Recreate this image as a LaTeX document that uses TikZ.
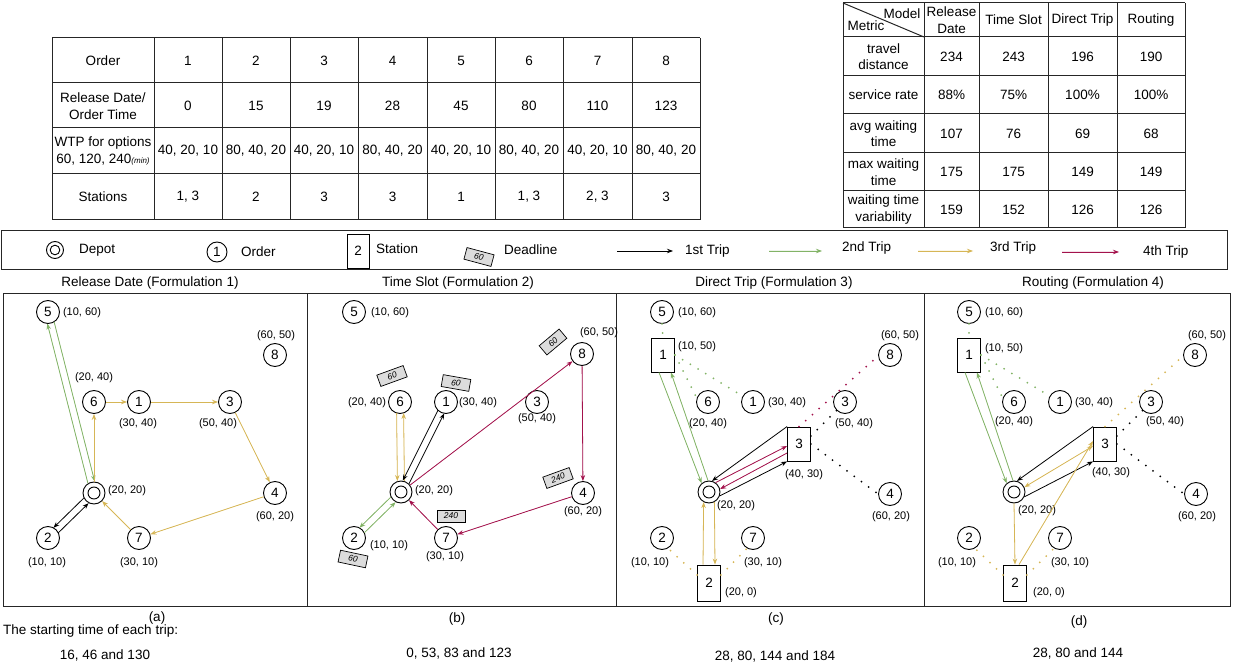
\documentclass[tikz,border=0pt]{standalone}
\usepackage{fontspec}
\setmainfont{Liberation Sans}
\usetikzlibrary{arrows.meta,calc}
\definecolor{tgreen}{HTML}{82B366}
\definecolor{ttan}{HTML}{D6B656}
\definecolor{tred}{HTML}{A3124C}
\definecolor{tagfill}{HTML}{DCDCDC}
\newcommand\fA{\fontsize{13.5}{16.5}\selectfont}
\newcommand\fB{\fontsize{11}{13}\selectfont}
\newcommand\fC{\fontsize{8.5}{10}\selectfont}
\newcommand\dlnL[3]{\draw[#1] ($(#2)!3.5pt!90:(#3)$) -- ($(#3)!3.5pt!-90:(#2)$);}
\newcommand\dlnR[3]{\draw[#1] ($(#2)!3.5pt!-90:(#3)$) -- ($(#3)!3.5pt!90:(#2)$);}
\tikzset{
 ord/.style={circle,draw,line width=0.9pt,minimum size=23pt,inner sep=0pt,font=\fA},
 dep/.style={circle,draw,line width=0.9pt,minimum size=22pt,inner sep=0pt,
   path picture={\draw[line width=0.9pt] (path picture bounding box.center) circle (6pt);}},
 depsm/.style={circle,draw,line width=0.9pt,minimum size=17pt,inner sep=0pt,
   path picture={\draw[line width=0.9pt] (path picture bounding box.center) circle (4.8pt);}},
 sta/.style={rectangle,draw,line width=0.9pt,minimum width=23pt,minimum height=34pt,inner sep=0pt,font=\fA},
 tagbox/.style={rectangle,draw,line width=0.7pt,fill=tagfill,minimum width=28pt,minimum height=12pt,inner sep=0pt,font=\fC\itshape},
 lbl/.style={font=\fB,inner sep=0pt},
 txt/.style={font=\fA,inner sep=0pt,align=center},
 arrw/.style={line width=0.8pt,-{Stealth[length=6pt,width=4.5pt]}},
 arrboth/.style={line width=0.8pt,{Stealth[length=6pt,width=4.5pt]}-{Stealth[length=6pt,width=4.5pt]}},
 tA/.style={arrw,draw=black},
 tB/.style={arrw,draw=tgreen,fill=tgreen},
 tC/.style={arrw,draw=ttan,fill=ttan},
 tD/.style={arrw,draw=tred,fill=tred},
 shc/.style={shorten <=11pt, shorten >=11pt},
 dotln/.style={line width=2pt,line cap=round,dash pattern=on 0pt off 9pt},
 tline/.style={line width=1pt,black!85},
 frame/.style={line width=1pt,black!85},
}
\begin{document}
\begin{tikzpicture}[x=1pt,y=-1pt]
\useasboundingbox (0,0) rectangle (1234,668);

% ---------- Table 1 ----------
\foreach \xx in {52,154,222,290,358,427,495,563,632,700} \draw[tline] (\xx,38) -- (\xx,220);
\foreach \yy in {38,83,128,174,220} \draw[tline] (52,\yy) -- (700,\yy);
\node[txt] (t1ho) at (103,60.5) {Order};
\node[txt] (t1hr) at (103,106) {Release Date/\\Order Time};
\node[txt] (t1hw) at (103,151) {WTP for options\\60, 120, 240{\fontsize{8}{9}\selectfont\itshape (min)}};
\node[txt] (t1hs) at (103,197) {Stations};
\foreach \i/\cx in {1/188,2/256,3/324,4/392.5,5/461,6/529,7/597.5,8/666}
  \node[txt] (t1o\i) at (\cx,61) {\i};
\foreach \i/\cx/\v in {1/188/0,2/256/15,3/324/19,4/392.5/28,5/461/45,6/529/80,7/597.5/110,8/666/123}
  \node[txt] (t1r\i) at (\cx,106) {\v};
\foreach \i/\cx in {1/188,3/324,5/461,7/597.5}
  \node[txt] (t1w\i) at (\cx,151) {40, 20, 10};
\foreach \i/\cx in {2/256,4/392.5,6/529,8/666}
  \node[txt] (t1w\i) at (\cx,151) {80, 40, 20};
\node[txt] (t1s1) at (188,197) {1, 3};
\node[txt] (t1s2) at (256,197) {2};
\node[txt] (t1s3) at (324,197) {3};
\node[txt] (t1s4) at (392.5,197) {3};
\node[txt] (t1s5) at (461,197) {1};
\node[txt] (t1s6) at (529,197) {1, 3};
\node[txt] (t1s7) at (597.5,197) {2, 3};
\node[txt] (t1s8) at (666,197) {3};

% ---------- Table 2 ----------
\foreach \xx in {843,924,979,1048,1117,1185} \draw[tline] (\xx,3) -- (\xx,228);
\foreach \yy in {3,37,76,114,153,191,228} \draw[tline] (843,\yy) -- (1185,\yy);
\draw[tline] (843,3) -- (924,37);
\node[txt] (t2model) at (902,14) {Model};
\node[txt] (t2metric) at (866,26) {Metric};
\node[txt] (t2c1) at (951.5,20) {Release\\Date};
\node[txt] (t2c2) at (1013.5,20) {Time Slot};
\node[txt] (t2c3) at (1082.5,20) {Direct Trip};
\node[txt] (t2c4) at (1151,20) {Routing};
\node[txt] (t2r1) at (883.5,56.5) {travel\\distance};
\node[txt] (t2r2) at (883.5,95) {service rate};
\node[txt] (t2r3) at (883.5,133.5) {avg waiting\\time};
\node[txt] (t2r4) at (883.5,172) {max waiting\\time};
\node[txt] (t2r5) at (883.5,209.5) {waiting time\\variability};
\foreach \cx/\a/\b/\c/\d/\e/\k in {951.5/234/88\%/107/175/159/1,1013.5/243/75\%/76/175/152/2,1082.5/196/100\%/69/149/126/3,1151/190/100\%/68/149/126/4}{
  \node[txt] (t2v\k a) at (\cx,56.5) {\a};
  \node[txt] (t2v\k b) at (\cx,95) {\b};
  \node[txt] (t2v\k c) at (\cx,133.5) {\c};
  \node[txt] (t2v\k d) at (\cx,172) {\d};
  \node[txt] (t2v\k e) at (\cx,209.5) {\e};
}

% ---------- Legend ----------
\draw[frame] (1,231) rectangle (1227,270);
\node[depsm] (lgdep) at (55,250) {};
\node[txt,anchor=west] (lgdept) at (79,250) {Depot};
\node[ord,minimum size=20pt] (lgord) at (217,252) {1};
\node[txt,anchor=west] (lgordt) at (241,252) {Order};
\node[sta,minimum width=22pt] (lgsta) at (358,251) {2};
\node[txt,anchor=west] (lgstat) at (376,249) {Station};
\node[tagbox,rotate=-15] (lgtag) at (479,257) {60};
\node[txt,anchor=west] (lgtagt) at (504,250) {Deadline};
\coordinate (l1a) at (617,251); \coordinate (l1b) at (673,251);
\coordinate (l2a) at (769,251); \coordinate (l2b) at (822,251);
\coordinate (l3a) at (918,251); \coordinate (l3b) at (973,251);
\coordinate (l4a) at (1062,252); \coordinate (l4b) at (1119,252);
\draw[tA] (l1a) -- (l1b);
\draw[tB] (l2a) -- (l2b);
\draw[tC] (l3a) -- (l3b);
\draw[tD] (l4a) -- (l4b);
\node[txt,anchor=west] (l1t) at (685,251) {1st Trip};
\node[txt,anchor=west] (l2t) at (842,248) {2nd Trip};
\node[txt,anchor=west] (l3t) at (990,248) {3rd Trip};
\node[txt,anchor=west] (l4t) at (1143,252) {4th Trip};

% ---------- Panel frames & titles ----------
\draw[frame] (3,294) rectangle (307,606);
\draw[frame] (307,294) rectangle (616,606);
\draw[frame] (616,294) rectangle (924,606);
\draw[frame] (924,294) rectangle (1230,606);
\node[txt] (ttla) at (150,283) {Release Date (Formulation 1)};
\node[txt] (ttlb) at (458,283) {Time Slot (Formulation 2)};
\node[txt] (ttlc) at (774,283) {Direct Trip (Formulation 3)};
\node[txt] (ttld) at (1093,283) {Routing (Formulation 4)};

% ---------- Panel (a) ----------
\node[ord] (a5) at (48,312) {5};
\node[ord] (a8) at (275,355) {8};
\node[ord] (a6) at (94,402) {6};
\node[ord] (a1) at (139,402) {1};
\node[ord] (a3) at (230,402) {3};
\node[dep] (ad) at (94,493) {};
\node[ord] (a4) at (275,493) {4};
\node[ord] (a2) at (48,538) {2};
\node[ord] (a7) at (139,538) {7};
\node[lbl] (la5) at (82,313) {(10, 60)};
\node[lbl] (la8) at (276,336) {(60, 50)};
\node[lbl] (la6) at (94,378) {(20, 40)};
\node[lbl] (la1) at (138,424) {(30, 40)};
\node[lbl] (la3) at (218,424) {(50, 40)};
\node[lbl] (lad) at (127,491) {(20, 20)};
\node[lbl] (la4) at (275,517) {(60, 20)};
\node[lbl] (la2) at (47,563) {(10, 10)};
\node[lbl] (la7) at (139,563) {(30, 10)};
\dlnL{tB,shc}{ad}{a5}
\dlnL{tB,shc}{a5}{ad}
\dlnR{tA,shc}{ad}{a2}
\dlnR{tA,shc}{a2}{ad}
\draw[tC] (ad) -- (a6);
\draw[tC] (a6) -- (a1);
\draw[tC] (a1) -- (a3);
\draw[tC] (a3) -- (a4);
\draw[tC] (a4) -- (a7);
\draw[tC] (a7) -- (ad);

% ---------- Panel (b) ----------
\node[ord] (b5) at (354,312) {5};
\node[ord] (b8) at (582,354) {8};
\node[ord] (b6) at (400,402) {6};
\node[ord] (b1) at (446,402) {1};
\node[ord] (b3) at (537,402) {3};
\node[dep] (bd) at (401,492) {};
\node[ord] (b4) at (583,493) {4};
\node[ord] (b2) at (354,538) {2};
\node[ord] (b7) at (446,538) {7};
\node[lbl] (lb5) at (390,313) {(10, 60)};
\node[lbl] (lb8) at (599,333) {(60, 50)};
\node[lbl] (lb6) at (367,403) {(20, 40)};
\node[lbl] (lb1) at (478,403) {(30, 40)};
\node[lbl] (lb3) at (537,419) {(50, 40)};
\node[lbl] (lbd) at (434,491) {(20, 20)};
\node[lbl] (lb4) at (583,512) {(60, 20)};
\node[lbl] (lb2) at (389,546) {(10, 10)};
\node[lbl] (lb7) at (445,557) {(30, 10)};
\node[tagbox,rotate=20] (bt6) at (392,376) {60};
\node[tagbox,rotate=-10] (bt1) at (456,383) {60};
\node[tagbox,rotate=40,minimum width=26pt] (bt8) at (553,342) {60};
\node[tagbox,rotate=20] (bt4) at (558,478) {240};
\node[tagbox] (bt7) at (451,516) {240};
\node[tagbox,rotate=-12] (bt2) at (353,559) {60};
\dlnR{tC,shc}{b6}{bd}
\dlnR{tC,shc}{bd}{b6}
\dlnR{tA,shc}{b1}{bd}
\dlnR{tA,shc}{bd}{b1}
\dlnR{tB,shc}{bd}{b2}
\dlnR{tB,shc}{b2}{bd}
\draw[tD] (bd) -- (b8);
\draw[tD] (b8) -- (b4);
\draw[tD] (b4) -- (b7);
\draw[tD] (b7) -- (bd);

% ---------- Panel (c) ----------
\node[ord] (c5) at (662,312) {5};
\node[sta] (cs1) at (663,355) {1};
\node[ord] (c8) at (890,355) {8};
\node[ord] (c6) at (708,402) {6};
\node[ord] (c1) at (753,402) {1};
\node[ord] (c3) at (845,402) {3};
\node[sta] (cs3) at (799,444) {3};
\node[dep] (cd) at (709,492) {};
\node[ord] (c4) at (890,494) {4};
\node[ord] (c2) at (662,538) {2};
\node[ord] (c7) at (753,538) {7};
\node[sta,minimum height=36pt] (cs2) at (709,583) {2};
\node[lbl] (lc5) at (697,313) {(10, 60)};
\node[lbl] (lcs1) at (697,347) {(10, 50)};
\node[lbl] (lc8) at (900,336) {(60, 50)};
\node[lbl] (lc6) at (708,424) {(20, 40)};
\node[lbl] (lc1) at (787,403) {(30, 40)};
\node[lbl] (lc3) at (854,424) {(50, 40)};
\node[lbl] (lcs3) at (804,475) {(40, 30)};
\node[lbl] (lcd) at (736,506) {(20, 20)};
\node[lbl] (lc4) at (891,517) {(60, 20)};
\node[lbl] (lc2) at (650,563) {(10, 10)};
\node[lbl] (lc7) at (763,563) {(30, 10)};
\node[lbl] (lcs2) at (741,593) {(20, 0)};
\draw[dotln,tgreen] (c5.south) -- (cs1.north);
\draw[dotln,tgreen] (cs1.east) -- (c6.160);
\draw[dotln,tgreen] (cs1.east) -- (c1.150);
\draw[dotln,black] ([yshift=8pt]cs3.east) -- (c3.225);
\draw[dotln,black] (cs3.east) -- (c4.180);
\draw[dotln,tred] (cs3.north) -- (c8.185);
\draw[dotln,ttan] ([yshift=8pt]cs2.west) -- (c2.-60);
\draw[dotln,ttan] ([yshift=8pt]cs2.east) -- (c7.-120);
\draw[tB] ([xshift=-4pt]cs1.south) -- (cd.130);
\draw[tB] (cd.95) -- ([xshift=-4pt]cs1.south east);
\draw[tA] (cs3.north west) -- (cd.75);
\draw[tA] (cd.-20) -- (cs3.south west);
\draw[tD] (cd.55) -- ([yshift=-2pt]cs3.west);
\draw[tD] ([yshift=-9pt]cs3.west) -- (cd.15);
\draw[tC] ([xshift=-6pt]cs2.north) -- (cd.-118);
\draw[tC] (cd.-62) -- ([xshift=6pt]cs2.north);

% ---------- Panel (d) ----------
\node[ord] (d5) at (969,312) {5};
\node[sta] (ds1) at (969,355) {1};
\node[ord] (d8) at (1195,355) {8};
\node[ord] (d6) at (1014,402) {6};
\node[ord] (d1) at (1060,402) {1};
\node[ord] (d3) at (1151,402) {3};
\node[sta] (ds3) at (1105,444) {3};
\node[dep] (dd) at (1014,492) {};
\node[ord] (d4) at (1196,494) {4};
\node[ord] (d2) at (969,538) {2};
\node[ord] (d7) at (1060,538) {7};
\node[sta,minimum height=36pt] (ds2) at (1015,583) {2};
\node[lbl] (ld5) at (1004,313) {(10, 60)};
\node[lbl] (lds1) at (1004,349) {(10, 50)};
\node[lbl] (ld8) at (1207,336) {(60, 50)};
\node[lbl] (ld6) at (1014,422) {(20, 40)};
\node[lbl] (ld1) at (1094,403) {(30, 40)};
\node[lbl] (ld3) at (1165,422) {(50, 40)};
\node[lbl] (lds3) at (1111,473) {(40, 30)};
\node[lbl] (ldd) at (1037,511) {(20, 20)};
\node[lbl] (ld4) at (1197,517) {(60, 20)};
\node[lbl] (ld2) at (957,563) {(10, 10)};
\node[lbl] (ld7) at (1070,563) {(30, 10)};
\node[lbl] (lds2) at (1049,593) {(20, 0)};
\draw[dotln,tgreen] (d5.south) -- (ds1.north);
\draw[dotln,tgreen] (ds1.east) -- (d6.160);
\draw[dotln,tgreen] (ds1.east) -- (d1.150);
\draw[dotln,black] ([yshift=8pt]ds3.east) -- (d3.225);
\draw[dotln,black] (ds3.east) -- (d4.180);
\draw[dotln,ttan] (ds3.north) -- (d8.185);
\draw[dotln,ttan] ([yshift=8pt]ds2.west) -- (d2.-60);
\draw[dotln,ttan] ([yshift=8pt]ds2.east) -- (d7.-120);
\draw[tB] ([xshift=-4pt]ds1.south) -- (dd.130);
\draw[tB] (dd.95) -- ([xshift=-4pt]ds1.south east);
\draw[tA] (ds3.north west) -- (dd.75);
\draw[tA] (dd.-25) -- (ds3.south west);
\draw[arrboth,draw=ttan,fill=ttan] (dd.25) -- ([yshift=-2pt]ds3.west);
\draw[tC] (dd.south) -- (ds2.north);
\draw[tC] ([xshift=4pt]ds2.north) -- ([yshift=3pt]ds3.west);

% ---------- Captions ----------
\node[txt] (capa) at (157,618) {(a)};
\node[txt] (capb) at (457,619) {(b)};
\node[txt] (capc) at (776,619) {(c)};
\node[txt] (capd) at (1079,622) {(d)};
\node[txt,anchor=west] (capst) at (3,631) {The starting time of each trip:};
\node[txt] (sa) at (105,655) {16, 46 and 130};
\node[txt] (sb) at (459,653) {0, 53, 83 and 123};
\node[txt] (sc) at (775,656) {28, 80, 144 and 184};
\node[txt] (sd) at (1078,653) {28, 80 and 144};
\end{tikzpicture}
\end{document}
